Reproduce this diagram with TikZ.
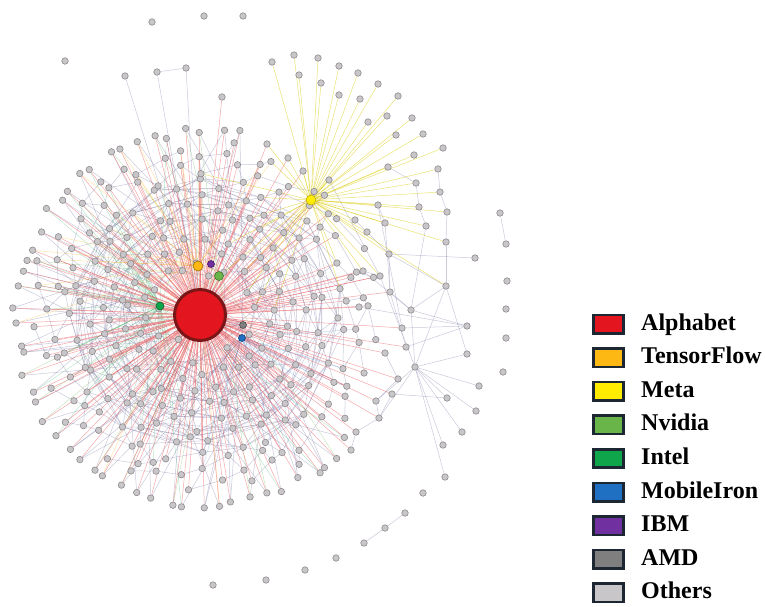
\documentclass[tikz,border=0pt]{standalone}
\usepackage{fontspec}
\setmainfont{Liberation Serif}
\usetikzlibrary{positioning,backgrounds}

\definecolor{alphared}{HTML}{E3151E}
\definecolor{alphadark}{HTML}{7A1518}
\definecolor{tfgold}{HTML}{FDB813}
\definecolor{metayellow}{HTML}{FFEC00}
\definecolor{nvgreen}{HTML}{6AB54A}
\definecolor{intelgreen}{HTML}{0FA54A}
\definecolor{miblue}{HTML}{1F6FC2}
\definecolor{ibmpurple}{HTML}{7030A0}
\definecolor{amdgray}{HTML}{7F7F7F}
\definecolor{othersfill}{HTML}{C8C6C8}
\definecolor{othersline}{HTML}{8E8A8E}
\definecolor{legline}{HTML}{1D2733}

\tikzset{
  others/.style={circle, draw=othersline, fill=othersfill, line width=0.6pt,
    minimum size=6.5pt, inner sep=0pt},
  firm/.style={circle, draw=#1!60!black, fill=#1, line width=0.6pt,
    minimum size=8pt, inner sep=0pt},
  link/.style={line width=0.5pt},
  alphaedge/.style={draw=alphared!75!white, draw opacity=0.5},
  othersedge/.style={draw=gray!80!blue, draw opacity=0.35},
  inteledge/.style={draw=intelgreen!80!white, draw opacity=0.35},
  nvedge/.style={draw=nvgreen, draw opacity=0.35},
  miedge/.style={draw=miblue!80!white, draw opacity=0.3},
  tfedge/.style={draw=tfgold, draw opacity=0.35},
  metaedge/.style={draw=metayellow!85!black, draw opacity=0.55},
  legbox/.style={draw=legline, line width=2.6pt, minimum width=30.4pt,
    minimum height=18.4pt, inner sep=0pt},
  leglabel/.style={font=\fontsize{24}{28}\selectfont\bfseries, inner sep=0pt,
    text height=17pt, text depth=5pt},
}

\begin{document}
\begin{tikzpicture}[x=1pt, y=-1pt]
\useasboundingbox (0,0) rectangle (765,606);

% core of the network
\pgfmathsetseed{42}
\foreach \i in {1,...,260}{
  \pgfmathsetmacro{\ang}{360*(\i*0.381966-floor(\i*0.381966))+4*rand}
  \pgfmathsetmacro{\rad}{34+140*(\i/260)^0.65+4*rand}
  \pgfmathsetmacro{\px}{205+\rad*cos(\ang)}
  \pgfmathsetmacro{\py}{316+\rad*sin(\ang)}
  \node[others] (c\i) at (\px,\py) {};
}
% outer ring
\foreach \k in {0,...,47}{
  \pgfmathsetmacro{\ang}{40+\k*5.1+2*rand}
  \pgfmathsetmacro{\rad}{188+5*rand}
  \pgfmathsetmacro{\px}{205+\rad*cos(\ang)}
  \pgfmathsetmacro{\py}{318+\rad*sin(\ang)}
  \node[others] (o\k) at (\px,\py) {};
}

% fan of Meta
\foreach \nm/\x/\y in {f1/272/62, f2/294/55, f3/318/58, f4/339/66, f5/358/73,
    f6/378/84, f7/398/96, f8/299/75, f9/321/83, f10/339/95, f11/360/99,
    f12/368/122, f13/387/116, f14/412/118, f15/396/135, f16/423/134,
    f17/443/148, f18/414/155}
  \node[others] (\nm) at (\x,\y) {};
\foreach \nm/\x/\y in {u1/388/167, u2/438/169, u3/416/183, u4/440/192,
    u5/419/207, u6/378/205, u7/447/212, u8/385/223, u9/426/226, u10/355/220,
    u11/367/232, u12/446/242, u13/329/180, u14/303/171, u15/288/158,
    u16/267/144}
  \node[others] (\nm) at (\x,\y) {};

% right part
\foreach \nm/\x/\y in {s1/389/254, s2/363/271, s3/380/276, s4/446/286,
    s5/390/292, s6/359/307, s7/411/310, s8/402/328, s9/467/326, s10/406/347,
    s11/385/353, s12/467/354, s13/415/367, s14/398/379, s15/479/386,
    s16/392/394, s17/447/398, s18/376/401, s19/476/411, s20/379/418,
    s21/462/432, s22/356/432, s23/351/450, s24/443/445, s25/445/477}
  \node[others] (\nm) at (\x,\y) {};

% loose nodes
\foreach \nm/\x/\y in {a1/500/213, a2/506/244, a3/475/258, a4/507/281,
    a5/506/309, a6/506/338, a7/503/372, a8/423/493, a9/405/513, a10/385/528,
    a11/364/543, a12/336/558, a13/305/570, a14/266/580, a15/213/585,
    t1/152/22, t2/204/16, t3/243/16, t4/65/61, t5/125/76, t6/157/72,
    t7/186/68, t8/222/97}
  \node[others] (\nm) at (\x,\y) {};

% companies
\node[circle, draw=alphadark, fill=alphared, line width=3pt, minimum size=51pt,
  inner sep=0pt] (alphabet) at (200,315) {};
\node[firm=tfgold, minimum size=10pt] (tensorflow) at (198,266) {};
\node[firm=ibmpurple, minimum size=7pt] (ibm) at (211,264) {};
\node[firm=nvgreen, minimum size=9pt] (nvidia) at (219,276) {};
\node[firm=intelgreen] (intel) at (160,306) {};
\node[firm=amdgray, minimum size=7pt] (amd) at (243,325) {};
\node[firm=miblue, minimum size=7pt] (mobileiron) at (242,338) {};
\node[firm=metayellow, draw=metayellow!70!black, minimum size=10pt] (meta) at (311,200) {};

\begin{pgfonlayer}{background}
% links among the others
\foreach \i in {1,...,239}{
  \pgfmathtruncatemacro{\j}{\i+21}
  \draw[link, othersedge] (c\i) -- (c\j);
}
\foreach \i in {1,...,150}{
  \pgfmathtruncatemacro{\j}{\i+13}
  \draw[link, othersedge] (c\i) -- (c\j);
}
\foreach \i in {1,...,160}{
  \pgfmathtruncatemacro{\j}{\i+8}
  \draw[link, othersedge] (c\i) -- (c\j);
  \pgfmathtruncatemacro{\j}{\i+5}
  \draw[link, othersedge] (c\i) -- (c\j);
}
\foreach \i in {1,...,200}{
  \pgfmathtruncatemacro{\j}{\i+34}
  \pgfmathtruncatemacro{\pick}{rnd<0.6 ? 1 : 0}
  \ifnum\pick=1 \draw[link, othersedge] (c\i) -- (c\j);\fi
}
\foreach \k in {0,...,47}{
  \pgfmathtruncatemacro{\j}{random(1,60)}
  \draw[link, othersedge] (o\k) -- (c\j);
  \pgfmathtruncatemacro{\pick}{random(1,4)}
  \ifcase\pick\or \draw[link, inteledge] (intel) -- (o\k);
  \or \draw[link, nvedge] (nvidia) -- (o\k);
  \or \draw[link, othersedge] (amd) -- (o\k);
  \or \draw[link, tfedge] (tensorflow) -- (o\k);\fi
}
\foreach \a/\b in {s13/s4, s13/s12, s13/s15, s13/s17, s13/s19, s13/s21,
    s13/s24, s13/s18, s13/s20, s13/s3, s13/s7, s13/s25, s4/s12, s4/s7,
    s4/s1, s7/s9, s8/s9, s10/s9, s7/s2, s7/s5, s5/s1, s3/s2, s16/s17,
    s14/s18, s18/s20, s20/s22, s22/s23, s16/s20, s5/s10, s11/s14, s6/s9,
    u12/s4, u9/s7, u8/s5, u6/u8, u1/u3, u3/u5, u5/u9, u2/u4, u4/u7,
    u7/u12, u10/u11, u11/s1, a3/s1, a1/a2, a9/a10, a10/a11, t6/t7,
    t5/alphabet, t6/alphabet, t7/alphabet, u13/s3, u6/s8}
  \draw[link, othersedge] (\a) -- (\b);

% links of the smaller companies
\foreach \i in {1,...,260}{
  \pgfmathsetmacro{\ang}{360*(\i*0.381966-floor(\i*0.381966))}
  \pgfmathtruncatemacro{\pick}{and(\ang<120,rnd<0.3)}
  \ifnum\pick=1 \draw[link, miedge] (mobileiron) -- (c\i);\fi
  \pgfmathtruncatemacro{\pick}{and(and(\ang>180,\ang<300),rnd<0.3)}
  \ifnum\pick=1 \draw[link, tfedge] (tensorflow) -- (c\i);\fi
  \pgfmathtruncatemacro{\pick}{and(and(\ang>100,\ang<260),rnd<0.3)}
  \ifnum\pick=1 \draw[link, inteledge] (intel) -- (c\i);\fi
}

% links of Alphabet
\foreach \k in {0,...,47}
  \draw[link, alphaedge] (alphabet) -- (o\k);
\foreach \i in {1,...,260}{
  \pgfmathtruncatemacro{\pick}{rnd<0.8 ? 1 : 0}
  \ifnum\pick=1 \draw[link, alphaedge] (alphabet) -- (c\i);\fi
}
\foreach \nm in {s2,s3,s5,s6,s8,s10,s11,s14,s16,s18,s20,s22,s23,t8,u14,u15,u16}
  \draw[link, alphaedge] (alphabet) -- (\nm);

% links of Meta
\foreach \n in {1,...,18}
  \draw[link, metaedge] (meta) -- (f\n);
\foreach \n in {1,...,16}
  \draw[link, metaedge] (meta) -- (u\n);
\foreach \nm in {s1,s2,s3,s4}
  \draw[link, metaedge] (meta) -- (\nm);
\foreach \i in {1,...,260}{
  \pgfmathsetmacro{\ang}{360*(\i*0.381966-floor(\i*0.381966))}
  \pgfmathtruncatemacro{\pick}{and(\ang>255,rnd<0.25)}
  \ifnum\pick=1 \draw[link, metaedge] (meta) -- (c\i);\fi
}
\end{pgfonlayer}

% legend
\foreach \col/\name [count=\n from 0] in {alphared/Alphabet, tfgold/TensorFlow,
    metayellow/Meta, nvgreen/Nvidia, intelgreen/Intel, miblue/MobileIron,
    ibmpurple/IBM, amdgray/AMD, othersfill/Others}{
  \node[legbox, fill=\col] (key\n) at (608.5,{324+33.6*\n}) {};
  \node[leglabel, right=16pt of key\n] (lab\n) {\name};
}
\end{tikzpicture}
\end{document}
